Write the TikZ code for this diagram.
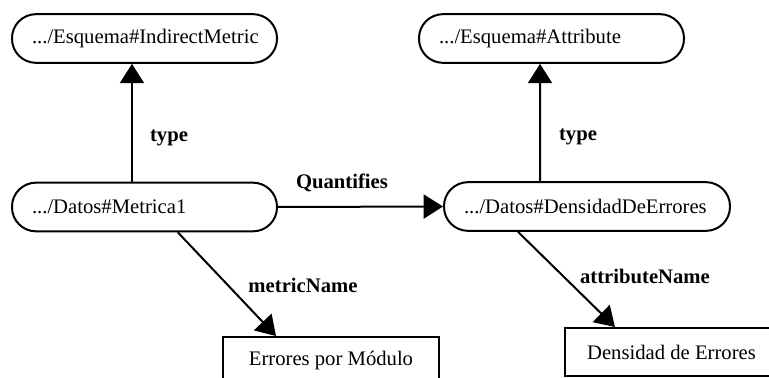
\documentclass[tikz,border=0pt]{standalone}
\usepackage{fontspec}
\setmainfont{Liberation Serif}
\usetikzlibrary{arrows.meta}
\begin{document}
\begin{tikzpicture}[x=0.75pt,y=-0.75pt,
  every node/.style={font=\fontsize{15.5pt}{18pt}\selectfont},
  pill/.style={draw, line width=1.5pt, rounded corners=18pt, minimum height=36.5pt, inner xsep=15pt, inner ysep=0pt},
  valbox/.style={draw, line width=1.5pt, minimum height=36pt, inner sep=0pt},
  lbl/.style={font=\bfseries\fontsize{15.5pt}{18pt}\selectfont, anchor=base, inner sep=0pt},
  arr/.style={line width=1.5pt, -{Triangle[length=14.5pt,width=18pt]}},
]
\useasboundingbox (0,0) rectangle (769,378);
\clip (0,0) rectangle (769,378);

\node[pill] (im) at (144.5,38.5) {\makebox[168.75pt][l]{.../Esquema\#IndirectMetric}};
\node[pill] (attr) at (551.5,38.5) {\makebox[168.75pt][l]{.../Esquema\#Attribute}};
\node[pill] (met) at (144.5,207) {\makebox[168.75pt][l]{.../Datos\#Metrica1}};
\node[pill] (den) at (587,206.5) {\makebox[184.5pt][l]{.../Datos\#DensidadDeErrores}};

\node[valbox, minimum width=162pt] (err) at (331,361) {Errores por Módulo};
\node[valbox, minimum width=159.75pt] (dde) at (671.5,352) {Densidad de Errores};

\draw[arr] ([xshift=-9.4pt]met.north) -- ([xshift=-9.4pt]im.south);
\draw[arr] ([xshift=-35.25pt]den.north) -- ([xshift=-8.6pt]attr.south);
\draw[arr] (met.east) -- (den.west);
\draw[arr] ([xshift=25pt]met.south) -- ([xshift=-41.25pt]err.north);
\draw[arr] ([xshift=-51.75pt]den.south) -- ([xshift=-42.4pt]dde.north);

\node[lbl] (t1) at (169,142) {type};
\node[lbl] (t2) at (578,141) {type};
\node[lbl] (q) at (342,189) {Quantifies};
\node[lbl] (mnl) at (303,292) {metricName};
\node[lbl] (anl) at (645,283) {attributeName};
\end{tikzpicture}
\end{document}
